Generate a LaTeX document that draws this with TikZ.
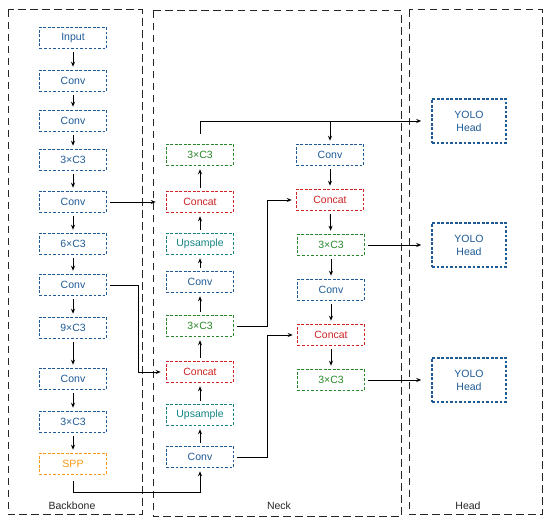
\documentclass[tikz,border=0pt]{standalone}
\usepackage{fontspec}
\setmainfont{Liberation Sans}
\usetikzlibrary{arrows.meta}
\definecolor{cblue}{RGB}{30,90,150}
\definecolor{cred}{RGB}{205,35,35}
\definecolor{cgreen}{RGB}{40,135,40}
\definecolor{cteal}{RGB}{20,130,130}
\definecolor{corange}{RGB}{255,150,20}
\begin{document}
\begin{tikzpicture}[x=1pt,y=-1pt,
  blk/.style={draw, dash pattern=on 2.6pt off 1.9pt, line width=1.5pt, minimum width=67pt, minimum height=21pt, inner sep=0pt, font=\fontsize{10.5}{12.5}\selectfont},
  bb/.style={blk, draw=cblue, text=cblue},
  rb/.style={blk, draw=cred, text=cred},
  gb/.style={blk, draw=cgreen, text=cgreen},
  tb/.style={blk, draw=cteal, text=cteal},
  ob/.style={blk, draw=corange, text=corange},
  hb/.style={bb, minimum width=74pt, minimum height=44pt, align=center, font=\fontsize{10.5}{13}\selectfont},
  grp/.style={draw=black!85, dash pattern=on 7.5pt off 4.5pt, line width=1pt},
  glabel/.style={font=\fontsize{10.5}{12.5}\selectfont, text=black!85},
  arr/.style={-{Stealth[length=5pt,width=4pt]}, line width=0.9pt, shorten >=3pt, shorten <=3pt}
]
\useasboundingbox (0,0) rectangle (550,526);
% groups
\draw[grp] (8,10) rectangle (142,515);
\draw[grp] (153,11) rectangle (401,517);
\draw[grp] (409,10) rectangle (542,515);
\node[glabel] (lb) at (72,506) {Backbone};
\node[glabel] (ln) at (279,506) {Neck};
\node[glabel] (lh) at (468,506) {Head};
% backbone
\node[bb] (in) at (73,38) {Input};
\node[bb] (c1) at (73,81) {Conv};
\node[bb] (c2) at (73,121) {Conv};
\node[bb] (k1) at (73,160) {3×C3};
\node[bb] (c3) at (73,202) {Conv};
\node[bb] (k2) at (73,244) {6×C3};
\node[bb] (c4) at (73,285) {Conv};
\node[bb] (k3) at (73,328) {9×C3};
\node[bb] (c5) at (73,379) {Conv};
\node[bb] (k4) at (73,422) {3×C3};
\node[ob] (spp) at (73,464) {SPP};
\foreach \a/\b in {in/c1,c1/c2,c2/k1,k1/c3,c3/k2,k2/c4,c4/k3,k3/c5,c5/k4,k4/spp}
  \draw[arr] (\a) -- (\b);
% neck column 1
\node[gb] (n3a) at (200,155) {3×C3};
\node[rb] (ncat1) at (200,202) {Concat};
\node[tb] (nup1) at (200,244) {Upsample};
\node[bb] (nconv1) at (200,282) {Conv};
\node[gb] (n3b) at (200,326) {3×C3};
\node[rb] (ncat2) at (200,372) {Concat};
\node[tb] (nup2) at (200,415) {Upsample};
\node[bb] (nconv2) at (200,457) {Conv};
\foreach \a/\b in {nconv2/nup2,nup2/ncat2,ncat2/n3b,n3b/nconv1,nconv1/nup1,nup1/ncat1,ncat1/n3a}
  \draw[arr] (\a) -- (\b);
% neck column 2
\node[bb] (mconv1) at (330,155) {Conv};
\node[rb] (mcat1) at (330,200) {Concat};
\node[gb] (m3a) at (331,245) {3×C3};
\node[bb] (mconv2) at (331,290) {Conv};
\node[rb] (mcat2) at (331,335) {Concat};
\node[gb] (m3b) at (331,380) {3×C3};
\foreach \a/\b in {mconv1/mcat1,mcat1/m3a,m3a/mconv2,mconv2/mcat2,mcat2/m3b}
  \draw[arr] (\a) -- (\b);
% heads
\node[hb] (h1) at (469,121) {YOLO\\Head};
\node[hb] (h2) at (469,245) {YOLO\\Head};
\node[hb] (h3) at (469,380) {YOLO\\Head};
% cross connections
\draw[arr, shorten >=10pt] (c3.east) -- (ncat1.west);
\draw[arr, shorten >=5pt] (c4.east) -- ++(31,0) |- (ncat2.west);
\draw[arr, shorten <=6pt] (spp.south) -- ++(0,17) -| (nconv2.south);
\draw[arr, shorten <=10pt, shorten >=10pt] (n3a.north) |- (h1.west);
\draw[arr, shorten <=0pt] (mconv1.north |- h1.west) -- (mconv1.north);
\draw[arr, shorten >=4pt] (n3b.east) -- ++(33,0) |- (mcat1.west);
\draw[arr, shorten >=4pt] (nconv2.east) -- ++(33,0) |- (mcat2.west);
\draw[arr, shorten >=10pt] (m3a.east) -- (h2.west);
\draw[arr, shorten >=10pt] (m3b.east) -- (h3.west);
\end{tikzpicture}
\end{document}
